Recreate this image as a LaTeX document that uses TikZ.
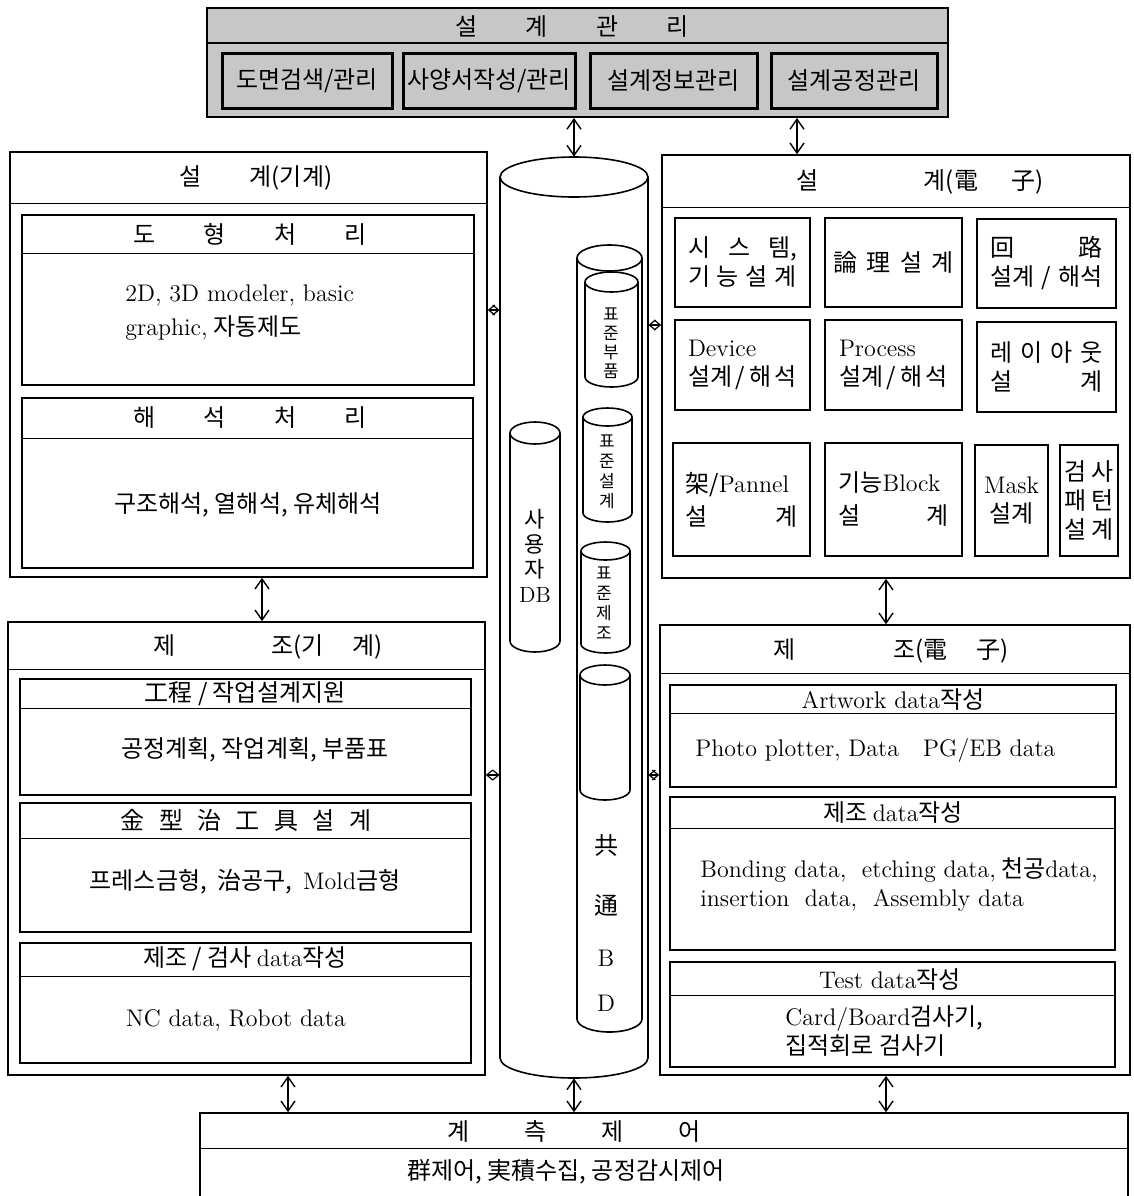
\documentclass[tikz,border=0pt]{standalone}
\usepackage{fontspec}
\newfontfamily\krfont{Noto Sans CJK KR}
\usetikzlibrary{shapes.geometric, arrows.meta, fit, positioning}

\tikzset{
  frame/.style={draw, line width=0.8pt, inner sep=0pt},
  cell/.style={draw, line width=1pt, inner sep=0pt},
  mgcell/.style={draw, line width=1.5pt, inner sep=0pt, fill=black!22},
  dbline/.style={draw, line width=0.8pt, fill=white},
  dbspot/.style={inner sep=0pt},
  lbl/.style={inner sep=0pt, font=\krfont\fontsize{12}{14.5}\selectfont},
  vlbl/.style={inner sep=0pt, align=center, font=\krfont\fontsize{8.5}{9.5}\selectfont},
  link/.style={{Straight Barb[length=5pt,width=7pt]}-{Straight Barb[length=5pt,width=7pt]}, line width=0.7pt},
  tick/.style={{Straight Barb[length=3pt,width=5pt]}-{Straight Barb[length=3pt,width=5pt]}, line width=0.6pt},
}
% 원통: x1, x2, 위, 아래, 뚜껑 높이의 반 (px)
\newcommand\dbcyl[5]{%
  \pgfmathsetmacro\dbrx{(#2-#1)/4}\pgfmathsetmacro\dbry{#5/2}%
  \draw[dbline] (#1,#3+#5) -- (#1,#4-#5)
    arc[start angle=180, end angle=360, x radius=\dbrx pt, y radius=\dbry pt]
    -- (#2,#3+#5)
    arc[start angle=0, end angle=180, x radius=\dbrx pt, y radius=\dbry pt] -- cycle;
  \draw[line width=0.8pt] (#1,#3+#5)
    arc[start angle=180, end angle=360, x radius=\dbrx pt, y radius=\dbry pt];
}

\begin{document}
\begin{tikzpicture}[x=0.5pt, y=-0.5pt]
  \useasboundingbox (0,0) rectangle (1134,1196);

  % 설계관리 (회색 판)
  \node[frame, fill=black!22, line width=1pt, fit={(207,8) (948,117)}] (mgmt) {};
  \draw[line width=1pt] (207,43) -- (948,43);
  \node[lbl] (mgmtT) at (572,27) {설\hspace{2em}계\hspace{2em}관\hspace{2em}리};
  \node[mgcell, fit={(222,53) (392,108)}] (mgmtA) {};
  \node[mgcell, fit={(403,53) (575,108)}] (mgmtB) {};
  \node[mgcell, fit={(590,53) (757,108)}] (mgmtC) {};
  \node[mgcell, fit={(771,53) (937,108)}] (mgmtD) {};
  \node[lbl] (mgmtAT) at (mgmtA) {도면검색/관리};
  \node[lbl] (mgmtBT) at (mgmtB) {사양서작성/관리};
  \node[lbl] (mgmtCT) at (mgmtC) {설계정보관리};
  \node[lbl] (mgmtDT) at (mgmtD) {설계공정관리};

  % 설계(기계)
  \node[frame, fit={(10,152) (487,577)}] (dMech) {};
  \draw (10,203) -- (487,203);
  \node[lbl] (dMechT) at (256,178) {설\hspace{2em}계(기계)};
  \node[frame, fit={(22,215) (474,385)}] (dMechA) {};
  \draw (22,253) -- (474,253);
  \node[lbl] (dMechAT) at (250,234) {도\hspace{2em}형\hspace{2em}처\hspace{2em}리};
  \node[lbl, anchor=west, align=left] (dMechAB) at (125,313)
    {{\rmfamily 2D,\ 3D modeler, basic}\\[2.5pt]{\rmfamily graphic,} 자동제도};
  \node[frame, fit={(22,398) (473,568)}] (dMechB) {};
  \draw (22,438) -- (473,438);
  \node[lbl] (dMechBT) at (250,418) {해\hspace{2em}석\hspace{2em}처\hspace{2em}리};
  \node[lbl] (dMechBB) at (248,505) {구조해석,\ 열해석,\ 유체해석};

  % 제조(기계)
  \node[frame, fit={(8,622) (485,1075)}] (pMech) {};
  \draw (8,669) -- (485,669);
  \node[lbl] (pMechT) at (268,647) {제\hspace{4em}조(기\hspace{1.2em}계)};
  \node[frame, fit={(20,679) (471,795)}] (pMechA) {};
  \draw (20,708) -- (471,708);
  \node[lbl] (pMechAT) at (245,694) {工程 / 작업설계지원};
  \node[lbl] (pMechAB) at (255,750) {공정계획, 작업계획, 부품표};
  \node[frame, fit={(20,803) (471,932)}] (pMechB) {};
  \draw (20,838) -- (471,838);
  \node[lbl] (pMechBT) at (246,820) {金\hspace{.6em}型\hspace{.6em}治\hspace{.6em}工\hspace{.6em}具\hspace{.6em}설\hspace{.6em}계};
  \node[lbl] (pMechBB) at (245,882) {프레스금형,\ \ 治공구,\ \ {\rmfamily Mold}금형};
  \node[frame, fit={(20,943) (471,1063)}] (pMechC) {};
  \draw (20,976) -- (471,976);
  \node[lbl] (pMechCT) at (245,959) {제조 / 검사 {\rmfamily data}작성};
  \node[lbl] (pMechCB) at (236,1020) {\rmfamily NC data, Robot data};

  % 중앙 DB
  \dbcyl{500}{648}{157}{1078}{20}
  \dbcyl{577}{642}{245}{1032}{13}
  \dbcyl{510}{560}{422}{652}{11}
  \dbcyl{585}{638}{272}{387}{10}
  \dbcyl{583}{632}{408}{522}{9}
  \dbcyl{581}{630}{542}{653}{9}
  \dbcyl{580}{630}{665}{800}{10}
  \node[dbspot, fit={(500,157) (648,1078)}] (mainDB) {};
  \node[dbspot, fit={(577,245) (642,1032)}] (comDB) {};
  \node[dbspot, fit={(510,422) (560,652)}] (userDB) {};
  \node[dbspot, fit={(585,272) (638,387)}] (stdPart) {};
  \node[dbspot, fit={(583,408) (632,522)}] (stdDesign) {};
  \node[dbspot, fit={(581,542) (630,653)}] (stdMfg) {};
  \node[dbspot, fit={(580,665) (630,800)}] (stdBlank) {};
  \node[vlbl, font=\krfont\fontsize{11}{12.5}\selectfont] (userT) at (535,556) {사\\용\\자\\{\rmfamily DB}};
  \node[vlbl] (stdPartT) at (611,343) {표\\준\\부\\품};
  \node[vlbl, font=\krfont\fontsize{8.5}{10}\selectfont] (stdDesignT) at (607,472) {표\\준\\설\\계};
  \node[vlbl, font=\krfont\fontsize{8.5}{10}\selectfont] (stdMfgT) at (604,603) {표\\준\\제\\조};
  \foreach \c/\y in {共/845, 通/905, {\rmfamily B}/958, {\rmfamily D}/1003}
    \node[lbl] (comT\y) at (606,\y) {\c};

  % 설계(電子)
  \node[frame, fit={(662,155) (1130,578)}] (dElec) {};
  \draw (662,207) -- (1130,207);
  \node[lbl] (dElecT) at (920,182) {설\hspace{4.4em}계(電\hspace{1.4em}子)};
  \node[cell, fit={(675,218) (810,307)}] (eSys) {};
  \node[lbl, text width=54.5pt, align=left] (eSysT) at (eSys) {시\hfill 스\hfill 템,\\기\hfill 능\hfill 설\hfill 계};
  \node[cell, fit={(825,218) (962,307)}] (eLogic) {};
  \node[lbl] (eLogicT) at (eLogic) {論\hspace{.4em}理\hspace{.4em}설\hspace{.4em}계};
  \node[cell, fit={(977,219) (1116,308)}] (eCirc) {};
  \node[lbl, text width=56pt, align=left] (eCircT) at (eCirc) {回\hfill 路\\설계\hfill /\hfill 해석};
  \node[cell, fit={(675,320) (810,410)}] (eDev) {};
  \node[lbl, text width=54.5pt, align=left] (eDevT) at (eDev) {{\rmfamily Device}\\설계\hfill /\hfill 해\hfill 석};
  \node[cell, fit={(825,320) (962,410)}] (eProc) {};
  \node[lbl, text width=54.5pt, align=left] (eProcT) at (eProc) {{\rmfamily Process}\\설계\hfill /\hfill 해\hfill 석};
  \node[cell, fit={(977,322) (1116,412)}] (eLay) {};
  \node[lbl, text width=56pt, align=left] (eLayT) at (eLay) {레\hfill 이\hfill 아\hfill 웃\\설\hfill 계};
  \node[cell, fit={(673,443) (810,556)}] (eRack) {};
  \node[lbl, text width=56pt, align=left] (eRackT) at (eRack) {架/{\rmfamily Pannel}\\[2pt]설\hfill 계};
  \node[cell, fit={(825,443) (962,556)}] (eBlock) {};
  \node[lbl, text width=55pt, align=left] (eBlockT) at (eBlock) {기능{\rmfamily Block}\\[2pt]설\hfill 계};
  \node[cell, fit={(975,445) (1048,556)}] (eMask) {};
  \node[lbl, align=center] (eMaskT) at (eMask) {{\rmfamily Mask}\\설계};
  \node[cell, fit={(1060,445) (1118,556)}] (eTest) {};
  \node[lbl, text width=25pt, align=left] (eTestT) at (eTest) {검\hfill 사\\패\hfill 턴\\설\hfill 계};

  % 제조(電子)
  \node[frame, fit={(660,625) (1130,1075)}] (pElec) {};
  \draw (660,673) -- (1130,673);
  \node[lbl] (pElecT) at (891,651) {제\hspace{4.1em}조(電\hspace{1.2em}子)};
  \node[frame, fit={(670,685) (1116,787)}] (pElecA) {};
  \draw (670,713) -- (1116,713);
  \node[lbl] (pElecAT) at (893,699) {{\rmfamily Artwork data}작성};
  \node[lbl, anchor=west] (pElecAB) at (695,750) {\rmfamily Photo plotter, Data\quad PG/EB data};
  \node[frame, fit={(670,797) (1115,950)}] (pElecB) {};
  \draw (670,828) -- (1115,828);
  \node[lbl] (pElecBT) at (893,812) {제조 {\rmfamily data}작성};
  \node[lbl, anchor=west, align=left] (pElecBB) at (700,885)
    {{\rmfamily Bonding data,\ \ etching data,} 천공{\rmfamily data,}\\{\rmfamily insertion\ \ data,\ \ Assembly data}};
  \node[frame, fit={(670,962) (1115,1067)}] (pElecC) {};
  \draw (670,995) -- (1115,995);
  \node[lbl] (pElecCT) at (890,979) {{\rmfamily Test data}작성};
  \node[lbl, anchor=west, align=left] (pElecCB) at (785,1031) {{\rmfamily Card/Board}검사기,\\집적회로 검사기};

  % 계측제어
  \node[frame, fit={(200,1113) (1128,1215)}] (ctrl) {};
  \draw (200,1148) -- (1128,1148);
  \node[lbl] (ctrlT) at (574,1131) {계\hspace{2.3em}측\hspace{2.3em}제\hspace{2.3em}어};
  \node[lbl] (ctrlB) at (566,1172) {群제어,\ 実積수집,\ 공정감시제어};

  % 연결
  \coordinate (xL) at (262,0);
  \coordinate (xLb) at (288,0);
  \coordinate (xR) at (886,0);
  \coordinate (xT) at (797,0);
  \coordinate (yU) at (0,310);
  \coordinate (yUr) at (0,325);
  \coordinate (yD) at (0,775);
  \draw[link] (mgmt.south -| mainDB.north) -- (mainDB.north);
  \draw[link] (mgmt.south -| xT) -- (dElec.north -| xT);
  \draw[link] (dMech.south -| xL) -- (pMech.north -| xL);
  \draw[link] (dElec.south -| xR) -- (pElec.north -| xR);
  \draw[link] (pMech.south -| xLb) -- (ctrl.north -| xLb);
  \draw[link] (mainDB.south) -- (ctrl.north -| mainDB.south);
  \draw[link] (pElec.south -| xR) -- (ctrl.north -| xR);
  \draw[tick] (dMech.east |- yU) -- (mainDB.west |- yU);
  \draw[tick] (mainDB.east |- yUr) -- (dElec.west |- yUr);
  \draw[tick] (pMech.east |- yD) -- (mainDB.west |- yD);
  \draw[tick] (mainDB.east |- yD) -- (pElec.west |- yD);
\end{tikzpicture}
\end{document}
